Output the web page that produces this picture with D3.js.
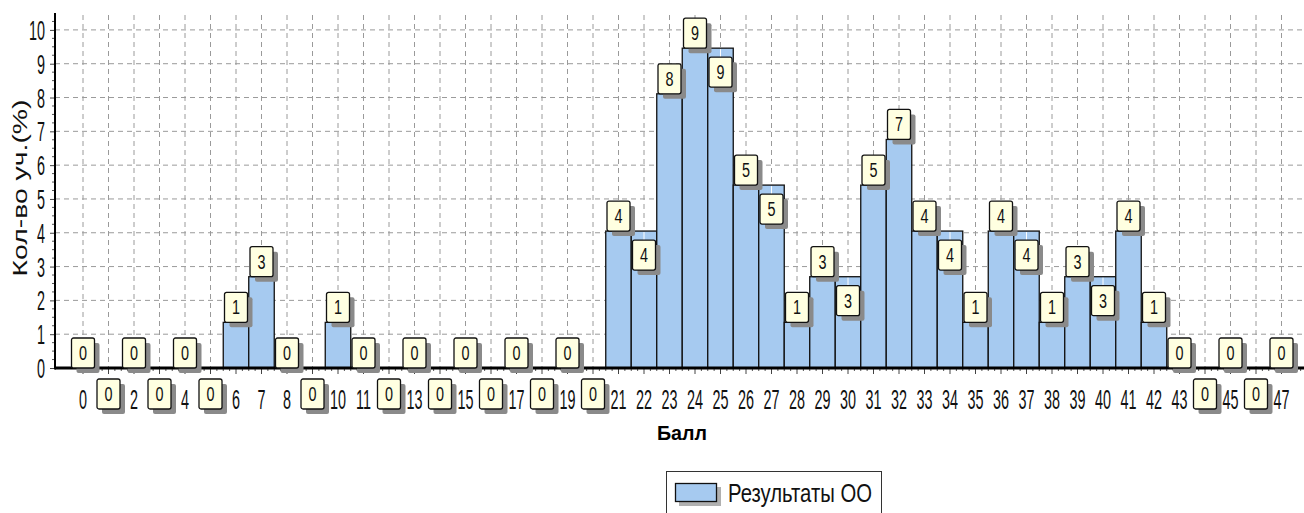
<!DOCTYPE html>
<html>
<head>
<meta charset="utf-8">
<script src="https://cdn.jsdelivr.net/npm/d3@7/dist/d3.min.js"></script>
<style>
  html, body { margin: 0; padding: 0; background: #ffffff; }
  svg { display: block; }
</style>
</head>
<body>
<div id="chart"></div>
<script>
// ---- data ----
const categories = [0,1,2,3,4,5,6,7,8,9,10,11,12,13,14,15,16,17,18,19,20,21,22,23,24,25,26,27,28,29,30,31,32,33,34,35,36,37,38,39,40,41,42,43,44,45,46,47];
const values = [0,0,0,0,0,0,1.35,2.70,0,0,1.35,0,0,0,0,0,0,0,0,0,0,4.05,4.05,8.11,9.46,9.46,5.41,5.41,1.35,2.70,2.70,5.41,6.76,4.05,4.05,1.35,4.05,4.05,1.35,2.70,2.70,4.05,1.35,0,0,0,0,0];
const yTicks = [0,1,2,3,4,5,6,7,8,9,10];
const yTitle = "Кол-во уч.(%)";
const xTitle = "Балл";
const seriesName = "Результаты ОО";

// ---- layout ----
const W = 1304, H = 513;
const FONT = '"Liberation Sans", Arial, sans-serif';
const barFill = "#A6CAF0";
const boxFill = "#FFFFE1";
const shadow = "#8a8a8a";
const gridColor = "#9a9a9a";

const x = d3.scaleBand().domain(categories).range([70.25, 1294.25]).padding(0);
const y = d3.scaleLinear().domain([0, 10.5]).range([368, 13]);
const axisX = 55, axisRight = 1304;

const svg = d3.select("#chart").append("svg").attr("width", W).attr("height", H);

// grid
const grid = svg.append("g");
grid.selectAll("line.h").data(yTicks.filter(d => d > 0)).join("line")
  .attr("x1", axisX).attr("x2", axisRight)
  .attr("y1", d => y(d)).attr("y2", d => y(d))
  .attr("stroke", gridColor).attr("stroke-width", 1).attr("stroke-dasharray", "5,4");
grid.selectAll("line.v").data(categories).join("line")
  .attr("x1", d => x(d) + x.bandwidth() / 2).attr("x2", d => x(d) + x.bandwidth() / 2)
  .attr("y1", y(10.5) + 2).attr("y2", y(0))
  .attr("stroke", gridColor).attr("stroke-width", 1).attr("stroke-dasharray", "5,4");

// bars
svg.append("g").selectAll("rect").data(categories.filter((c, i) => values[i] > 0)).join("rect")
  .attr("x", d => x(d))
  .attr("y", d => y(values[d]))
  .attr("width", x.bandwidth())
  .attr("height", d => y(0) - y(values[d]))
  .attr("fill", barFill).attr("stroke", "#111").attr("stroke-width", 1.3);

// value label placement with simple collision avoidance
const bw = 23, bh = 30, sh = 5;
const placed = [];
categories.forEach((c, i) => {
  const v = values[i];
  const top = y(v);
  const above = { y0: top - bh, y1: top };
  const prev = placed[i - 1];
  let pos = "above";
  if (prev && above.y0 < prev.y1 + sh && above.y1 + sh > prev.y0) pos = "below";
  const by = pos === "above" ? top - bh : top + (v > 0 ? 9 : 11);
  placed.push({ c, v, pos, y0: by, y1: by + bh });
});
const covered = new Set(placed.filter(d => d.pos === "below" && d.v === 0).map(d => d.c));

// y axis
const yAxis = d3.axisLeft(y).tickValues(yTicks).tickSize(5).tickFormat(d3.format("d"));
const gy = svg.append("g").attr("transform", `translate(${axisX},0)`).call(yAxis);
gy.select(".domain").remove();
gy.selectAll(".tick line").attr("stroke", "#444");
gy.selectAll(".tick text")
  .attr("font-family", FONT).attr("font-size", 16).attr("fill", "#111")
  .attr("x", -10 / 0.9).attr("dy", null).attr("y", 9.5 / 1.72)
  .attr("transform", "scale(0.9,1.72)");
// minor y ticks
svg.append("g").selectAll("line").data(d3.range(0, 10.5, 0.25).filter(v => v % 1 !== 0)).join("line")
  .attr("x1", axisX - 3).attr("x2", axisX).attr("y1", d => y(d)).attr("y2", d => y(d))
  .attr("stroke", "#555").attr("stroke-width", 1);
svg.append("line").attr("x1", axisX).attr("x2", axisX).attr("y1", y(10.5)).attr("y2", y(0) + 1.5)
  .attr("stroke", "#000").attr("stroke-width", 2);

// x axis
const xAxis = d3.axisBottom(x).tickSize(6).tickSizeOuter(0);
const gx = svg.append("g").attr("transform", `translate(0,${y(0)})`).call(xAxis);
gx.select(".domain").remove();
gx.selectAll(".tick line").attr("stroke", "#444");
gx.selectAll(".tick text")
  .attr("font-family", FONT).attr("font-size", 16).attr("fill", "#111")
  .attr("dy", null).attr("y", 41 / 1.78)
  .attr("transform", "scale(0.9,1.78)");
gx.selectAll(".tick").filter(d => covered.has(d)).select("text").remove();
// minor x ticks
const minor = [];
categories.forEach(c => [0.25, 0.5, 0.75].forEach(f => minor.push(x(c) + x.bandwidth() * f + x.bandwidth() / 2)));
svg.append("g").selectAll("line").data(minor.filter(v => v < axisRight)).join("line")
  .attr("x1", d => d).attr("x2", d => d).attr("y1", y(0)).attr("y2", y(0) + 3)
  .attr("stroke", "#555").attr("stroke-width", 1);
svg.append("line").attr("x1", axisX).attr("x2", axisRight).attr("y1", y(0)).attr("y2", y(0))
  .attr("stroke", "#000").attr("stroke-width", 3);

// value label boxes
const lg = svg.append("g");
const lab = lg.selectAll("g").data(placed).join("g")
  .attr("transform", d => `translate(${x(d.c) + x.bandwidth() / 2 - bw / 2},${d.y0})`);
lab.filter(d => d.pos === "below" && d.v > 0).append("line")
  .attr("x1", bw / 2).attr("x2", bw / 2).attr("y1", d => y(d.v) - d.y0 + 1).attr("y2", 0)
  .attr("stroke", "#fff").attr("stroke-width", 1);
lab.append("rect").attr("x", sh).attr("y", sh).attr("width", bw).attr("height", bh)
  .attr("rx", 2).attr("fill", shadow);
lab.append("rect").attr("x", 0).attr("y", 0).attr("width", bw).attr("height", bh)
  .attr("rx", 2).attr("fill", boxFill).attr("stroke", "#111").attr("stroke-width", 1.3);
lab.append("text").attr("x", (bw / 2) / 0.9).attr("y", 22 / 1.32).attr("transform", "scale(0.9,1.32)")
  .attr("text-anchor", "middle").attr("font-family", FONT).attr("font-size", 16).attr("fill", "#111")
  .text(d => Math.round(d.v));

// axis titles
svg.append("text").attr("transform", `translate(27,188) rotate(-90)`)
  .attr("text-anchor", "middle").attr("font-family", FONT)
  .attr("font-size", 20).attr("textLength", 177).attr("lengthAdjust", "spacingAndGlyphs")
  .attr("fill", "#111").text(yTitle);
svg.append("text").attr("x", 682).attr("y", 440)
  .attr("text-anchor", "middle").attr("font-family", FONT).attr("font-weight", "bold")
  .attr("font-size", 21).attr("textLength", 50).attr("lengthAdjust", "spacingAndGlyphs")
  .attr("fill", "#000").text(xTitle);

// legend
const leg = svg.append("g");
leg.append("rect").attr("x", 666.5).attr("y", 471.5).attr("width", 215).attr("height", 60)
  .attr("fill", "#fff").attr("stroke", "#333").attr("stroke-width", 1);
leg.append("rect").attr("x", 679).attr("y", 487).attr("width", 42).attr("height", 19).attr("fill", "#b0b0b0");
leg.append("rect").attr("x", 675.5).attr("y", 483.5).attr("width", 41).attr("height", 18)
  .attr("fill", barFill).attr("stroke", "#111").attr("stroke-width", 1.3);
leg.append("text").attr("x", 728).attr("y", 502)
  .attr("font-family", FONT).attr("font-size", 25).attr("textLength", 144).attr("lengthAdjust", "spacingAndGlyphs")
  .attr("fill", "#111").text(seriesName);
</script>
</body>
</html>
